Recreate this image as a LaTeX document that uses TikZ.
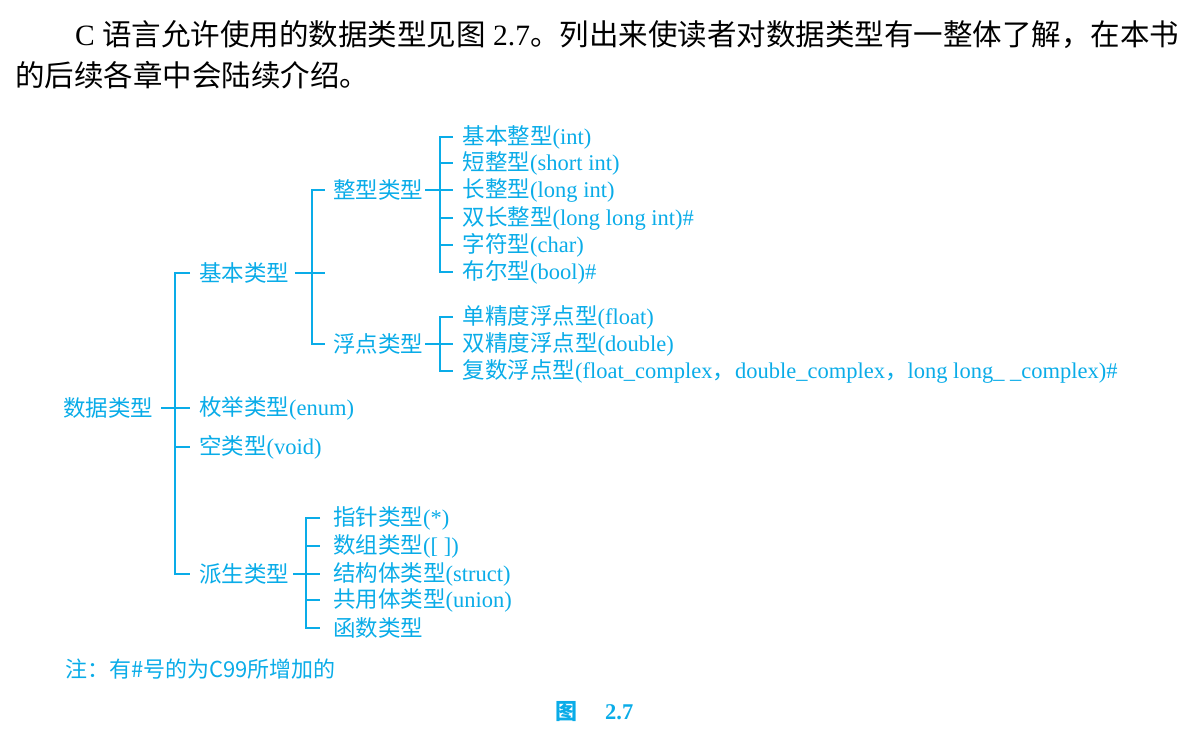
\documentclass[tikz,border=0pt]{standalone}
\usepackage{fontspec}
\setmainfont{Liberation Serif}
\newfontfamily\cjk{Noto Sans CJK SC}
\definecolor{cy}{RGB}{10,172,232}
\begin{document}
\begin{tikzpicture}[x=1pt,y=-1pt,
  lab/.style={anchor=west, inner sep=0pt, text=cy, font=\fontsize{22.5}{27}\selectfont},
  intro/.style={anchor=west, inner sep=0pt, text=black, font=\fontsize{29.5}{35}\selectfont},
  conn/.style={draw=cy, line width=2pt}]
\useasboundingbox (0,0) rectangle (1199,744);
% intro paragraph
\node[intro] (p1) at (75,35) {C {\cjk 语言允许使用的数据类型见图} 2.7{\cjk 。列出来使读者对数据类型有一整体了解，在本书}};
\node[intro] (p2) at (15,75) {{\cjk 的后续各章中会陆续介绍。}};
% guide coordinates
\coordinate (V1) at (175,0);  \coordinate (T1) at (190,0);
\coordinate (V2) at (312,0);  \coordinate (T2) at (325,0);
\coordinate (V3) at (440,0);  \coordinate (T3) at (453,0);
\coordinate (V4) at (306,0);  \coordinate (T4) at (320,0);
% nodes
\node[lab] (r) at (63,408) {{\cjk 数据类型}};
\node[lab] (k) at (199,273) {{\cjk 基本类型}};
\node[lab] (e) at (199,408) {{\cjk 枚举类型}(enum)};
\node[lab] (v) at (199,447) {{\cjk 空类型}(void)};
\node[lab] (d) at (199,574) {{\cjk 派生类型}};
\node[lab] (z) at (333,190) {{\cjk 整型类型}};
\node[lab] (f) at (333,344) {{\cjk 浮点类型}};
\node[lab] (a1) at (462.5,137) {{\cjk 基本整型}(int)};
\node[lab] (a2) at (462.5,163) {{\cjk 短整型}(short int)};
\node[lab] (a3) at (462.5,190) {{\cjk 长整型}(long int)};
\node[lab] (a4) at (462.5,218) {{\cjk 双长整型}(long long int)\#};
\node[lab] (a5) at (462.5,245) {{\cjk 字符型}(char)};
\node[lab] (a6) at (462.5,272) {{\cjk 布尔型}(bool)\#};
\node[lab] (b1) at (462.5,317) {{\cjk 单精度浮点型}(float)};
\node[lab] (b2) at (462.5,344) {{\cjk 双精度浮点型}(double)};
\node[lab] (b3) at (462.5,371) {{\cjk 复数浮点型}(float\_complex{\cjk ，}double\_complex{\cjk ，}long long\_ \_complex)\#};
\node[lab] (c1) at (333,518) {{\cjk 指针类型}(*)};
\node[lab] (c2) at (333,546) {{\cjk 数组类型}([ ])};
\node[lab] (c3) at (333,574) {{\cjk 结构体类型}(struct)};
\node[lab] (c4) at (333,600) {{\cjk 共用体类型}(union)};
\node[lab] (c5) at (333,628) {{\cjk 函数类型}};
\node[lab, font=\cjk\fontsize{22}{26}\selectfont] (note) at (65,669) {注：有\#号的为C99所增加的};
\node[lab, font=\cjk\bfseries\fontsize{22}{26}\selectfont] (cap1) at (555,712) {图};
\node[lab, font=\bfseries\fontsize{22.5}{26}\selectfont] (cap2) at (605,712) {2.7};
% level 1
\draw[conn] (k.west -| T1) -- (k.west -| V1) -- (d.west -| V1) -- (d.west -| T1);
\draw[conn] (v.west -| V1) -- (v.west -| T1);
\draw[conn] ([xshift=8pt]r.east) -- (e.west -| T1);
% level 2
\draw[conn] (z.west -| T2) -- (z.west -| V2) -- (f.west -| V2) -- (f.west -| T2);
\draw[conn] ([xshift=6pt]k.east) -- (k.east -| T2);
% integer leaves
\draw[conn] (a1.west -| T3) -- (a1.west -| V3) -- (a6.west -| V3) -- (a6.west -| T3);
\foreach \n in {a2,a3,a4,a5} \draw[conn] (\n.west -| V3) -- (\n.west -| T3);
\draw[conn] ([xshift=2pt]z.east) -- (z.east -| T3);
% float leaves
\draw[conn] (b1.west -| T3) -- (b1.west -| V3) -- (b3.west -| V3) -- (b3.west -| T3);
\draw[conn] (b2.west -| V3) -- (b2.west -| T3);
\draw[conn] ([xshift=2pt]f.east) -- (f.east -| T3);
% derived leaves
\draw[conn] (c1.west -| T4) -- (c1.west -| V4) -- (c5.west -| V4) -- (c5.west -| T4);
\foreach \n in {c2,c3,c4} \draw[conn] (\n.west -| V4) -- (\n.west -| T4);
\draw[conn] ([xshift=4pt]d.east) -- (d.east -| T4);
\end{tikzpicture}
\end{document}
